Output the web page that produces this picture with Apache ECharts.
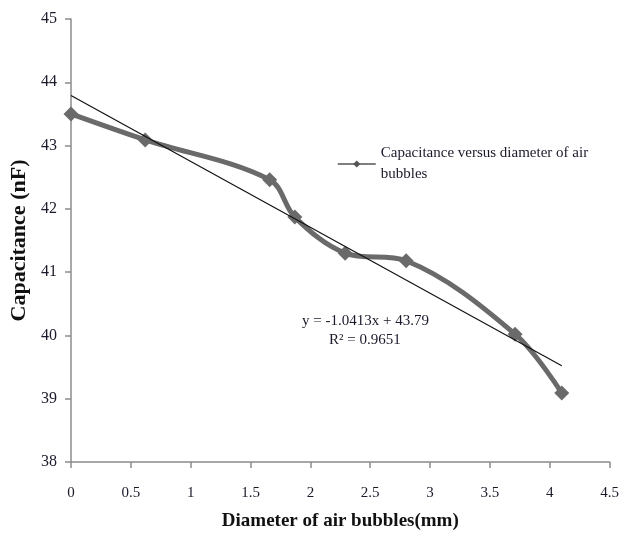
<!DOCTYPE html>
<html>
<head>
<meta charset="utf-8">
<script src="https://cdn.jsdelivr.net/npm/echarts@6/dist/echarts.min.js"></script>
<style>html,body{margin:0;padding:0;background:#fff}#c{width:622px;height:542px}</style>
</head>
<body>
<div id="c"></div>
<script>
var diameters = [0, 0.62, 1.66, 1.87, 2.29, 2.8, 3.71, 4.1];
var capacitance = [43.5, 43.09, 42.46, 41.87, 41.3, 41.18, 40.02, 39.09];
var trendSlope = -1.0413;
var trendIntercept = 43.79;
var trendRange = [0, 4.1];
var seriesName = 'Capacitance versus diameter of air bubbles';
var equationText = 'y = -1.0413x + 43.79';
var r2Text = 'R\u00b2 = 0.9651';

var font = 'Liberation Serif';
var chart = echarts.init(document.getElementById('c'));
var trendData = trendRange.map(function (x) { return [x, trendIntercept + trendSlope * x]; });

chart.setOption({
  backgroundColor: '#fff',
  animation: false,
  grid: { left: 71, right: 11, top: 19, bottom: 80 },
  xAxis: {
    type: 'value', min: 0, max: 4.5, interval: 0.5,
    name: 'Diameter of air bubbles(mm)', nameLocation: 'middle', nameGap: 50,
    nameTextStyle: { fontFamily: font, fontWeight: 'bold', fontSize: 19, color: '#111' },
    axisLine: { lineStyle: { color: '#8c8c8c', width: 1.5 } },
    axisTick: { show: true, length: 6, lineStyle: { color: '#8c8c8c', width: 1.5 } },
    axisLabel: { fontFamily: font, fontSize: 15, color: '#1a1a2a', margin: 24 },
    splitLine: { show: false }
  },
  yAxis: {
    type: 'value', min: 38, max: 45, interval: 1,
    name: 'Capacitance (nF)', nameLocation: 'middle', nameGap: 41, nameRotate: 90,
    nameTextStyle: { fontFamily: font, fontWeight: 'bold', fontSize: 22, color: '#111' },
    axisLine: { show: true, lineStyle: { color: '#8c8c8c', width: 1.5 } },
    axisTick: { show: true, length: 6, lineStyle: { color: '#8c8c8c', width: 1.5 } },
    axisLabel: { fontFamily: font, fontSize: 16, color: '#1a1a2a', margin: 14 },
    splitLine: { show: false }
  },
  legend: {
    left: 332, top: 128, orient: 'vertical',
    itemWidth: 38, itemHeight: 9, itemGap: 4,
    data: [{ name: seriesName, itemStyle: { color: '#555' }, lineStyle: { width: 1.5, color: '#555' } }],
    formatter: function (n) { return 'Capacitance versus diameter of air\nbubbles'; },
    textStyle: { fontFamily: font, fontSize: 15, color: '#1a1a2a', lineHeight: 21, padding: [20, 0, 0, 0] }
  },
  series: [
    {
      name: seriesName, type: 'line', smooth: 0.35,
      data: diameters.map(function (d, i) { return [d, capacitance[i]]; }),
      symbol: 'diamond', symbolSize: 15,
      lineStyle: { color: '#6a6a6a', width: 5 },
      itemStyle: { color: '#6a6a6a' },
      z: 2
    },
    {
      name: 'trend', type: 'line', data: trendData, symbol: 'none',
      lineStyle: { color: '#111', width: 1.2 }, z: 3, silent: true
    }
  ],
  graphic: [
    { type: 'text', left: 302, top: 314, style: { text: equationText, font: '15px "Liberation Serif"', fill: '#1a1a2a' } },
    { type: 'text', left: 329, top: 333, style: { text: r2Text, font: '15px "Liberation Serif"', fill: '#1a1a2a' } }
  ]
});
</script>
</body>
</html>
